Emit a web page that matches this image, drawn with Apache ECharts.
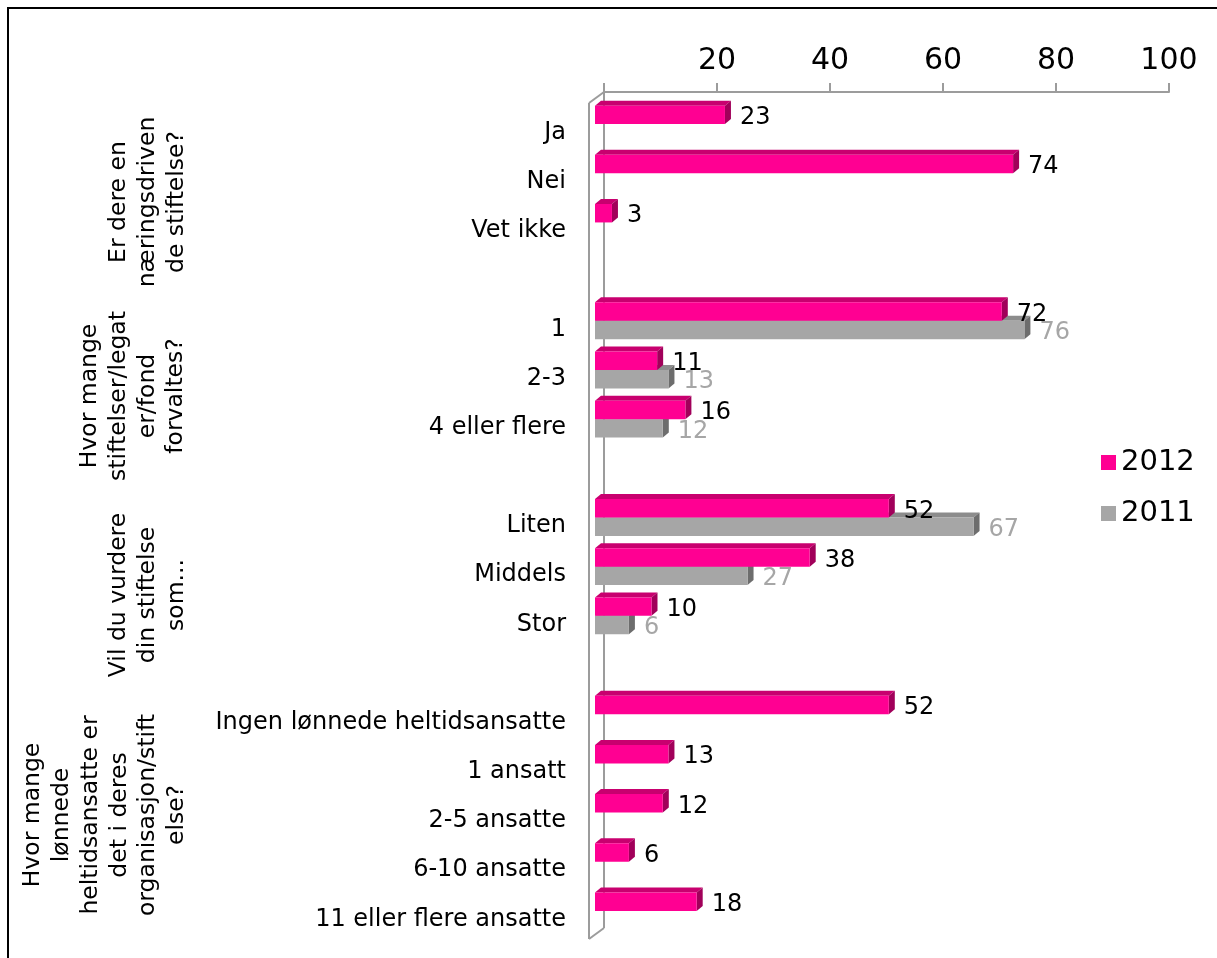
<!DOCTYPE html>
<html>
<head>
<meta charset="utf-8">
<script src="https://cdn.jsdelivr.net/npm/echarts@6/dist/echarts.min.js"></script>
<style>
  html, body { margin: 0; padding: 0; background: #fff; }
  #chart { width: 1217px; height: 958px; }
</style>
</head>
<body>
<div id="chart"></div>
<script>
// Answer categories, top to bottom (blank entries separate the question groups)
const categories = [
  'Ja', 'Nei', 'Vet ikke', ' ',
  '1', '2-3', '4 eller flere', '  ',
  'Liten', 'Middels', 'Stor', '   ',
  'Ingen lønnede heltidsansatte', '1 ansatt', '2-5 ansatte', '6-10 ansatte', '11 eller flere ansatte'
];
const values2012 = [23, 74, 3, null, 72, 11, 16, null, 52, 38, 10, null, 52, 13, 12, 6, 18];
const values2011 = [null, null, null, null, 76, 13, 12, null, 67, 27, 6, null, null, null, null, null, null];
const seriesNames = ['2012', '2011'];
const xTicks = [0, 20, 40, 60, 80, 100];

// Question texts shown rotated along the left edge
const groupTitles = [
  'Er dere en\nnæringsdriven\nde stiftelse?',
  'Hvor mange\nstiftelser/legat\ner/fond\nforvaltes?',
  'Vil du vurdere\ndin stiftelse\nsom...',
  'Hvor mange\nlønnede\nheltidsansatte er\ndet i deres\norganisasjon/stift\nelse?'
];

const FONT = '"DejaVu Sans", Verdana, sans-serif';
const PINK = { front: '#FF0092', top: '#C8006F', side: '#A1005A', label: '#000000' };
const GRAY = { front: '#A6A6A6', top: '#8C8C8C', side: '#6D6D6D', label: '#A6A6A6' };

// 3D look: bars sit in front of the back wall, with a small visible depth
const FRONT_DX = -9, FRONT_DY = 7.5;
const DEPTH_X = 6, DEPTH_Y = -5;

function toData(arr) {
  return arr.map((v, i) => [v, i]).filter(d => d[0] != null);
}

function barRenderer(slot, colors) {
  return function (params, api) {
    const v = api.value(0);
    const idx = api.value(1);
    const base = api.coord([0, idx]);
    const end = api.coord([v, idx]);
    const band = api.size([0, 1])[1];
    const h = band * 0.375;
    const fx = base[0] + FRONT_DX;
    const cy = base[1] + FRONT_DY;
    const y0 = slot === 0 ? cy - h : cy;
    const w = end[0] - base[0];
    const x1 = fx + w;
    return {
      type: 'group',
      children: [
        {
          type: 'polygon',
          shape: { points: [[fx, y0], [fx + DEPTH_X, y0 + DEPTH_Y], [x1 + DEPTH_X, y0 + DEPTH_Y], [x1, y0]] },
          style: { fill: colors.top }
        },
        {
          type: 'polygon',
          shape: { points: [[x1, y0], [x1 + DEPTH_X, y0 + DEPTH_Y], [x1 + DEPTH_X, y0 + h + DEPTH_Y], [x1, y0 + h]] },
          style: { fill: colors.side }
        },
        {
          type: 'rect',
          shape: { x: fx, y: y0, width: w, height: h },
          style: { fill: colors.front }
        },
        {
          type: 'text',
          z2: 10,
          style: {
            x: x1 + DEPTH_X + 9,
            y: y0 + h / 2 + 3,
            text: String(v),
            fill: colors.label,
            font: '24px ' + FONT,
            align: 'left',
            verticalAlign: 'middle'
          }
        }
      ]
    };
  };
}

// Side wall of the plot (back edge, front edge and connecting diagonals)
function wallRenderer(params, api) {
  const cs = params.coordSys;
  const bx = cs.x, top = cs.y, bottom = cs.y + cs.height;
  const fx = bx - 15, dy = 11;
  const style = { stroke: '#9C9C9C', lineWidth: 2, fill: null };
  return {
    type: 'group',
    children: [
      { type: 'line', shape: { x1: bx, y1: top, x2: bx, y2: bottom }, style },
      { type: 'line', shape: { x1: fx, y1: top + dy, x2: fx, y2: bottom + dy }, style },
      { type: 'line', shape: { x1: fx, y1: top + dy, x2: bx, y2: top }, style },
      { type: 'line', shape: { x1: fx, y1: bottom + dy, x2: bx, y2: bottom }, style }
    ]
  };
}

const titleLayout = [
  { x: 148, y: 202 },
  { x: 133, y: 396 },
  { x: 148, y: 595 },
  { x: 105, y: 815 }
];

const chart = echarts.init(document.getElementById('chart'), null, { renderer: 'canvas' });

chart.setOption({
  animation: false,
  backgroundColor: '#ffffff',
  textStyle: { fontFamily: FONT },
  grid: { left: 604, right: 48, top: 92, bottom: 30, containLabel: false },
  legend: {
    data: seriesNames,
    orient: 'vertical',
    left: 1101,
    top: 448,
    padding: 0,
    icon: 'rect',
    itemWidth: 15,
    itemHeight: 15,
    itemGap: 22,
    textStyle: { fontSize: 29, color: '#000', fontFamily: FONT }
  },
  xAxis: {
    type: 'value',
    position: 'top',
    min: xTicks[0],
    max: xTicks[xTicks.length - 1],
    interval: xTicks[1] - xTicks[0],
    splitLine: { show: false },
    axisLine: { show: true, lineStyle: { color: '#9C9C9C', width: 2 } },
    axisTick: { show: true, length: 9, lineStyle: { color: '#9C9C9C', width: 2 } },
    axisLabel: {
      fontSize: 30,
      color: '#000',
      fontFamily: FONT,
      margin: 16,
      formatter: v => (v === 0 ? '' : String(v))
    }
  },
  yAxis: {
    type: 'category',
    inverse: true,
    data: categories,
    axisLine: { show: false },
    axisTick: { show: false },
    splitLine: { show: false },
    axisLabel: {
      fontSize: 24,
      color: '#000',
      fontFamily: FONT,
      margin: 38,
      interval: 0,
      verticalAlign: 'top',
      padding: [4, 0, 0, 0]
    }
  },
  graphic: [
    {
      type: 'rect',
      shape: { x: 8, y: 8, width: 1240, height: 980 },
      style: { fill: null, stroke: '#000', lineWidth: 2 },
      silent: true
    }
  ].concat(groupTitles.map((t, i) => ({
    type: 'text',
    x: titleLayout[i].x,
    y: titleLayout[i].y,
    rotation: Math.PI / 2,
    style: {
      text: t,
      font: '23.5px ' + FONT,
      lineHeight: 28.8,
      fill: '#000',
      align: 'center',
      verticalAlign: 'middle'
    }
  }))),
  series: [
    {
      type: 'custom',
      name: 'wall',
      silent: true,
      z: 1,
      data: [[0, 0]],
      encode: { x: 0, y: 1 },
      renderItem: wallRenderer
    },
    {
      type: 'custom',
      name: seriesNames[0],
      z: 3,
      itemStyle: { color: PINK.front },
      data: toData(values2012),
      encode: { x: 0, y: 1 },
      renderItem: barRenderer(0, PINK)
    },
    {
      type: 'custom',
      name: seriesNames[1],
      z: 2,
      itemStyle: { color: GRAY.front },
      data: toData(values2011),
      encode: { x: 0, y: 1 },
      renderItem: barRenderer(1, GRAY)
    }
  ]
});
</script>
</body>
</html>
